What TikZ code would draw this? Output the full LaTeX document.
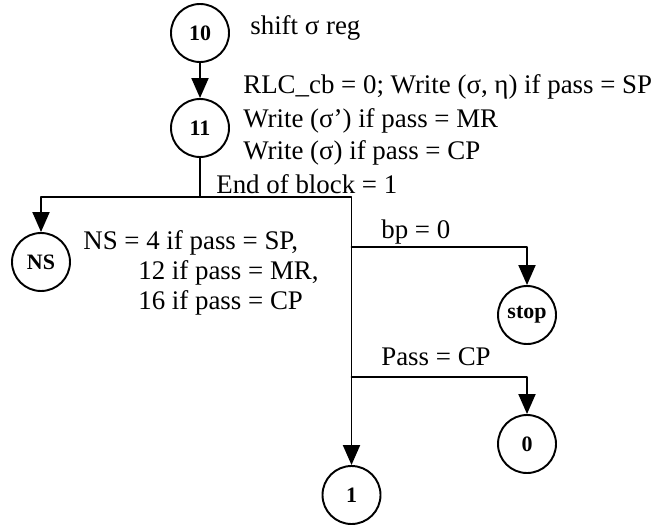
\documentclass[tikz,border=0pt]{standalone}
\usepackage{fontspec}
\setmainfont{Liberation Serif}
\usepackage{tikz}
\usetikzlibrary{arrows.meta}
\tikzset{
  every picture/.style={line join=round, line cap=round, >={Triangle[length=0.40cm,width=0.34cm]}},
  state/.style={draw,circle,line width=1.1pt,minimum size=1.16cm,inner sep=0pt,font=\fontsize{12.5}{14}\selectfont\bfseries},
  edge/.style={line width=1.1pt},
  lbl/.style={anchor=base west,inner sep=0pt,font=\fontsize{15.3}{18}\selectfont},
}

\begin{document}
\begin{tikzpicture}
\useasboundingbox (0,0) rectangle (13.080,10.500);
\node[state] (n10) at (4.000,9.840) {10};
\node[state] (n11) at (4.000,7.940) {11};
\node[state] (ns) at (0.820,5.260) {NS};
\node[state] (stop) at (10.540,4.200) {stop};
\node[state] (zero) at (10.540,1.620) {0};
\node[state] (one) at (7.030,0.600) {1};
\coordinate (j) at (4.000,6.560);
\coordinate (jr) at (7.030,6.560);
\coordinate (bj) at (7.030,5.560);
\coordinate (pj) at (7.030,2.960);
\draw[edge,->] (n10) -- (n11);
\draw[edge] (n11) -- (j);
\draw[edge,->] (j) -| (ns);
\draw[edge,->] (j) -- (jr) -- (one);
\draw[edge,->] (bj) -| (stop);
\draw[edge,->] (pj) -| (zero);
\node[lbl] (t10) at (5.000,9.800) {shift σ reg};
\node[lbl] (t11a) at (4.860,8.620) {RLC\_cb = 0; Write (σ, η) if pass = SP};
\node[lbl] (t11b) at (4.860,7.940) {Write (σ’) if pass = MR};
\node[lbl] (t11c) at (4.860,7.300) {Write (σ) if pass = CP};
\node[lbl] (teob) at (4.320,6.640) {End of block = 1};
\node[lbl] (tnsa) at (1.660,5.520) {NS = 4 if pass = SP,};
\node[lbl] (tnsb) at (2.760,4.920) {12 if pass = MR,};
\node[lbl] (tnsc) at (2.760,4.320) {16 if pass = CP};
\node[lbl] (tbp) at (7.620,5.740) {bp = 0};
\node[lbl] (tpass) at (7.620,3.200) {Pass = CP};
\end{tikzpicture}
\end{document}
